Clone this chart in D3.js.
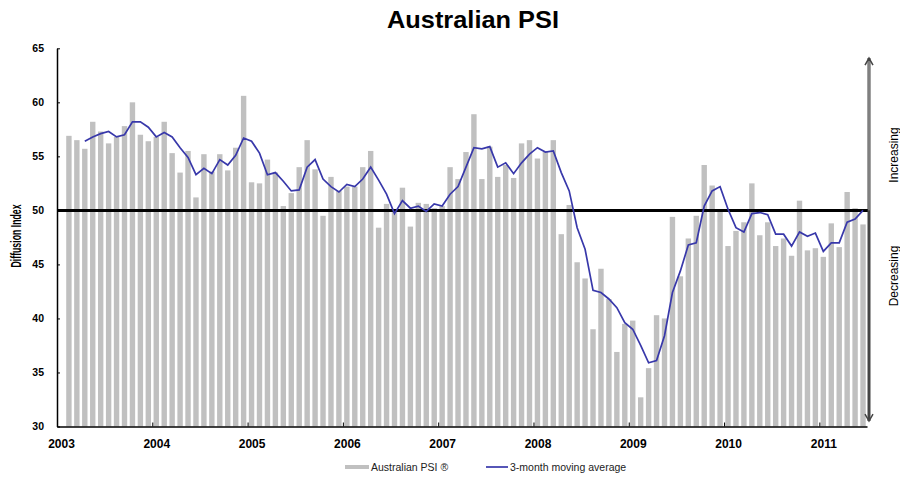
<!DOCTYPE html>
<html>
<head>
<meta charset="utf-8">
<script src="https://cdn.jsdelivr.net/npm/d3@7"></script>
<style>
  body { margin: 0; background: #fff; }
  svg { display: block; font-family: "Liberation Sans", Arial, sans-serif; }
</style>
</head>
<body>
<svg id="chart" width="900" height="478"></svg>
<script>
// year tick labels, one every 12 months from Jan 2003
var years = ["2003", "2004", "2005", "2006", "2007", "2008", "2009", "2010", "2011"];
var yTicks = [30, 35, 40, 45, 50, 55, 60, 65];

// Australian PSI, monthly, Feb 2003 .. Jun 2011
var psi = [
  56.9, 56.5, 55.7, 58.2, 57.3, 56.2, 56.8, 57.8, 60.0, 57.0, 56.4,
  56.8, 58.2, 55.3, 53.5, 55.5, 51.2, 55.2, 53.6, 55.2, 53.7, 55.8, 60.6,
  52.6, 52.5, 54.7, 53.5, 50.4, 51.6, 54.0, 56.5, 53.8, 49.5, 53.1, 51.8,
  52.2, 52.2, 54.0, 55.5, 48.4, 50.6, 50.0, 52.1, 48.5, 50.7, 50.6, 50.2,
  50.4, 54.0, 52.9, 55.4, 58.9, 52.9, 55.9, 53.1, 54.2, 53.0, 56.2, 56.5,
  54.8, 55.4, 56.5, 47.8, 50.5, 45.2, 43.7, 39.0, 44.6, 41.8, 36.9, 39.5,
  39.8, 32.7, 35.4, 40.3, 40.0, 49.4, 43.9, 47.4, 49.5, 54.2, 52.3, 49.9,
  46.7, 48.1, 48.9, 52.5, 47.7, 48.9, 46.7, 47.4, 45.8, 50.9, 46.3, 46.5,
  45.7, 48.8, 46.6, 51.7, 50.2, 48.7
];

// 3-month moving average, Apr 2003 .. Jun 2011
var avg3 = [
  56.4, 56.8, 57.1, 57.3, 56.8, 57.0, 58.2, 58.2, 57.7,
  56.8, 57.2, 56.8, 55.8, 54.9, 53.3, 53.9, 53.4, 54.7, 54.2, 55.1, 56.7,
  56.4, 55.3, 53.3, 53.5, 52.7, 51.8, 51.9, 54.0, 54.7, 52.9, 52.2, 51.7,
  52.4, 52.2, 52.9, 54.0, 52.8, 51.5, 49.7, 50.9, 50.2, 50.4, 49.9, 50.6,
  50.4, 51.5, 52.2, 54.0, 55.8, 55.7, 55.9, 54.0, 54.4, 53.4, 54.4, 55.2,
  55.8, 55.4, 55.5, 53.5, 51.8, 48.4, 46.4, 42.6, 42.4, 41.8, 41.0, 39.6,
  39.0, 37.5, 35.9, 36.1, 38.4, 42.4, 44.4, 46.8, 47.0, 50.4, 51.8, 52.2,
  50.1, 48.4, 48.0, 49.7, 49.8, 49.6, 47.8, 47.8, 46.7, 48.0, 47.6, 47.9,
  46.2, 47.0, 47.0, 48.9, 49.2, 50.0
];

var firstBar = 1;   // months after Jan 2003
var firstAvg = 3;
var nMonths = 102;

var svg = d3.select("#chart");

var x = d3.scaleLinear().domain([0, nMonths]).range([57, 867]);
var y = d3.scaleLinear().domain([30, 65]).range([426.5, 48.3]);
var barW = (x(1) - x(0)) * 0.68;

// title
svg.append("text")
  .attr("x", 473).attr("y", 28)
  .attr("text-anchor", "middle")
  .attr("textLength", 172).attr("lengthAdjust", "spacingAndGlyphs")
  .style("font-size", "24px").style("font-weight", "bold")
  .text("Australian PSI");

// bars
svg.append("g").selectAll("rect")
  .data(psi)
  .enter().append("rect")
  .attr("x", (d, i) => x(i + firstBar + 0.5) - barW / 2)
  .attr("y", d => y(d))
  .attr("width", barW)
  .attr("height", d => y(30) - y(d))
  .attr("fill", "#c0c0c0");

// 50 reference line
svg.append("line")
  .attr("x1", x(0)).attr("x2", x(nMonths) + 1)
  .attr("y1", y(50)).attr("y2", y(50))
  .attr("stroke", "#000").attr("stroke-width", 3);

// moving average
var line = d3.line()
  .x((d, i) => x(i + firstAvg + 0.5))
  .y(d => y(d));

svg.append("path")
  .datum(avg3)
  .attr("d", line)
  .attr("fill", "none")
  .attr("stroke", "#3838aa")
  .attr("stroke-width", 1.7);

// axes
var yAxis = svg.append("g")
  .attr("transform", "translate(" + x(0) + ",0)")
  .call(d3.axisLeft(y).tickValues(yTicks).tickSize(-3).tickSizeOuter(0).tickPadding(13));
yAxis.selectAll("text").style("font-size", "10.5px").style("font-weight", "bold").attr("fill", "#000");

var xAxis = svg.append("g")
  .attr("transform", "translate(0," + y(30) + ")")
  .call(d3.axisBottom(x)
    .tickValues(years.map((d, i) => i * 12))
    .tickFormat((d, i) => years[i])
    .tickSize(-4).tickSizeOuter(0).tickPadding(13));
xAxis.selectAll("text").attr("dx", 4).style("font-size", "12px").style("font-weight", "bold").attr("fill", "#000");
svg.selectAll(".domain").attr("stroke", "#000").attr("stroke-width", 1.5);

// y axis title
svg.append("text")
  .attr("transform", "translate(21,236) rotate(-90)")
  .attr("text-anchor", "middle")
  .attr("textLength", 63).attr("lengthAdjust", "spacingAndGlyphs")
  .style("font-size", "14px").style("font-weight", "bold")
  .text("Diffusion Index");

// up/down arrow on the right
var arrX = 869, arrTop = y(64.1), arrBot = y(30.5);
svg.append("line").attr("x1", arrX).attr("x2", arrX).attr("y1", arrTop).attr("y2", arrBot)
  .attr("stroke", "#444").attr("stroke-width", 3);
svg.append("line").attr("x1", arrX).attr("x2", arrX).attr("y1", arrTop + 3).attr("y2", y(50))
  .attr("stroke", "#bbb").attr("stroke-width", 1);
svg.append("path")
  .attr("d", "M" + (arrX - 4) + "," + (arrTop + 7) + "L" + arrX + "," + arrTop + "L" + (arrX + 4) + "," + (arrTop + 7) +
             "M" + (arrX - 4) + "," + (arrBot - 7) + "L" + arrX + "," + arrBot + "L" + (arrX + 4) + "," + (arrBot - 7))
  .attr("fill", "none").attr("stroke", "#444").attr("stroke-width", 1.5);

svg.append("text")
  .attr("transform", "translate(898,155) rotate(-90)")
  .attr("text-anchor", "middle").style("font-size", "12px")
  .text("Increasing");
svg.append("text")
  .attr("transform", "translate(898,276) rotate(-90)")
  .attr("text-anchor", "middle").style("font-size", "12px")
  .text("Decreasing");

// legend
var leg = svg.append("g").attr("transform", "translate(0,467)");
leg.append("rect").attr("x", 345).attr("y", -2).attr("width", 24).attr("height", 4).attr("fill", "#c0c0c0");
leg.append("text").attr("x", 371).attr("y", 4).style("font-size", "10.5px").attr("fill", "#222")
  .text("Australian PSI \u00AE");
leg.append("line").attr("x1", 486).attr("x2", 508).attr("y1", 0).attr("y2", 0)
  .attr("stroke", "#3838aa").attr("stroke-width", 1.7);
leg.append("text").attr("x", 510).attr("y", 4).style("font-size", "10.5px").attr("fill", "#222")
  .text("3-month moving average");
</script>
</body>
</html>
